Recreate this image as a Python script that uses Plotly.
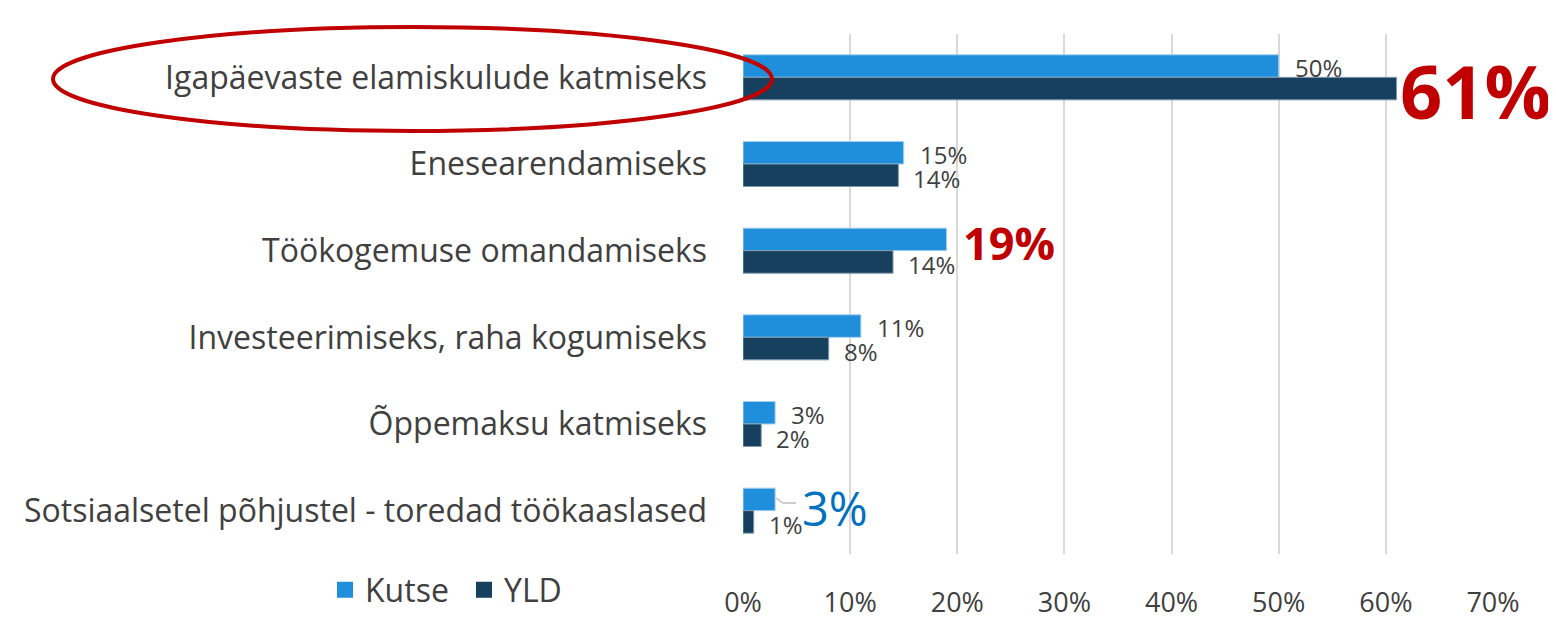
import plotly.graph_objects as go

categories = [
    "Igapäevaste elamiskulude katmiseks",
    "Enesearendamiseks",
    "Töökogemuse omandamiseks",
    "Investeerimiseks, raha kogumiseks",
    "Õppemaksu katmiseks",
    "Sotsiaalsetel põhjustel - toredad töökaaslased",
]
kutse = [50, 15, 19, 11, 3, 3]
yld = [61, 14.5, 14, 8, 1.7, 1]
kutse_labels = ["50%", "15%", "19%", "11%", "3%", "3%"]
yld_labels = ["61%", "14%", "14%", "8%", "2%", "1%"]
x_ticks = [0, 10, 20, 30, 40, 50, 60, 70]

# page body has an 8px margin; figure sized/offset so the plot lands where the reference has it
OFF = 8
W, H = 1556 - OFF, 619 - OFF
L, R, T, B = 743 - OFF, 63, 34 - OFF, 65
PW, PH = W - L - R, H - T - B


def px(x):
    return (x - OFF - L) / PW


def py(y):
    return (H - B - (y - OFF)) / PH


C_KUTSE = "#1F8FDC"
C_YLD = "#17405E"
TXT = "#404040"
FONT = "Open Sans"

fig = go.Figure()
fig.add_trace(go.Bar(y=categories, x=kutse, orientation="h", name="Kutse", showlegend=False,
                     marker=dict(color=C_KUTSE, line=dict(color="#A9CFEF", width=1))))
fig.add_trace(go.Bar(y=categories, x=yld, orientation="h", name="YLD", showlegend=False,
                     marker=dict(color=C_YLD, line=dict(color="#7F9AB0", width=1))))
# legend entries with larger square swatches
fig.add_trace(go.Scatter(x=[None], y=[None], mode="markers", name="Kutse",
                         marker=dict(symbol="square", size=16, color=C_KUTSE)))
fig.add_trace(go.Scatter(x=[None], y=[None], mode="markers", name="YLD",
                         marker=dict(symbol="square", size=16, color=C_YLD)))

annotations = []
for i, cat in enumerate(categories):
    if i not in (2, 5):
        annotations.append(dict(x=kutse[i], y=cat, xref="x", yref="y", text=kutse_labels[i],
                                showarrow=False, xanchor="left", yanchor="middle", xshift=14,
                                yshift=10, font=dict(family=FONT, size=24, color=TXT)))
    if i != 0:
        annotations.append(dict(x=yld[i], y=cat, xref="x", yref="y", text=yld_labels[i],
                                showarrow=False, xanchor="left", yanchor="middle", xshift=13,
                                yshift=-14, font=dict(family=FONT, size=24, color=TXT)))

annotations.append(dict(x=yld[0], y=categories[0], xref="x", yref="y", text=yld_labels[0],
                        showarrow=False, xanchor="left", yanchor="middle", xshift=1, yshift=-13,
                        font=dict(family=FONT, size=74, color="#C00000", weight="bold")))
annotations.append(dict(x=kutse[2], y=categories[2], xref="x", yref="y", text=kutse_labels[2],
                        showarrow=False, xanchor="left", yanchor="middle", xshift=14, yshift=8,
                        font=dict(family=FONT, size=45, color="#C00000", weight="bold")))
annotations.append(dict(x=kutse[5], y=categories[5], xref="x", yref="y", text=kutse_labels[5],
                        showarrow=False, xanchor="left", yanchor="middle", xshift=25, yshift=3,
                        font=dict(family=FONT, size=47, color="#0070C0")))

shapes = [
    dict(type="circle", xref="paper", yref="paper",
         x0=px(53), x1=px(772), y0=py(131), y1=py(27),
         line=dict(color="#C00000", width=4)),
    dict(type="path", xref="paper", yref="paper",
         path=f"M {px(776)} {py(498)} L {px(783)} {py(503)} L {px(796)} {py(503)}",
         line=dict(color="#BFBFBF", width=1.5)),
    dict(type="rect", xref="paper", yref="paper",
         x0=px(1370), x1=px(1556), y0=py(6), y1=py(OFF),
         fillcolor="#EEEEEE", line=dict(width=0), layer="below"),
]

fig.update_layout(
    width=W, height=H,
    margin=dict(l=L, r=R, t=T, b=B, autoexpand=False),
    paper_bgcolor="white", plot_bgcolor="white",
    barmode="group", bargap=0.48, bargroupgap=0,
    font=dict(family=FONT, color=TXT),
    showlegend=True,
    legend=dict(orientation="h", x=px(325), y=py(590), xanchor="left", yanchor="middle",
                font=dict(family=FONT, size=32, color=TXT), itemwidth=30,
                entrywidth=94, entrywidthmode="pixels",
                traceorder="normal", bgcolor="rgba(0,0,0,0)"),
    xaxis=dict(range=[0, 70], tickvals=x_ticks, ticktext=[f"{v}%" for v in x_ticks],
               showgrid=True, gridcolor="#D9D9D9", gridwidth=2, zeroline=False,
               showline=False, ticks="", ticklabelstandoff=30,
               tickfont=dict(family=FONT, size=27, color=TXT)),
    yaxis=dict(range=[len(categories) - 0.5, -0.5], showgrid=False, zeroline=False,
               showline=False, ticks="", ticklabelstandoff=35,
               tickfont=dict(family=FONT, size=32, color=TXT)),
    annotations=annotations,
    shapes=shapes,
)

fig.write_html("out.html")
